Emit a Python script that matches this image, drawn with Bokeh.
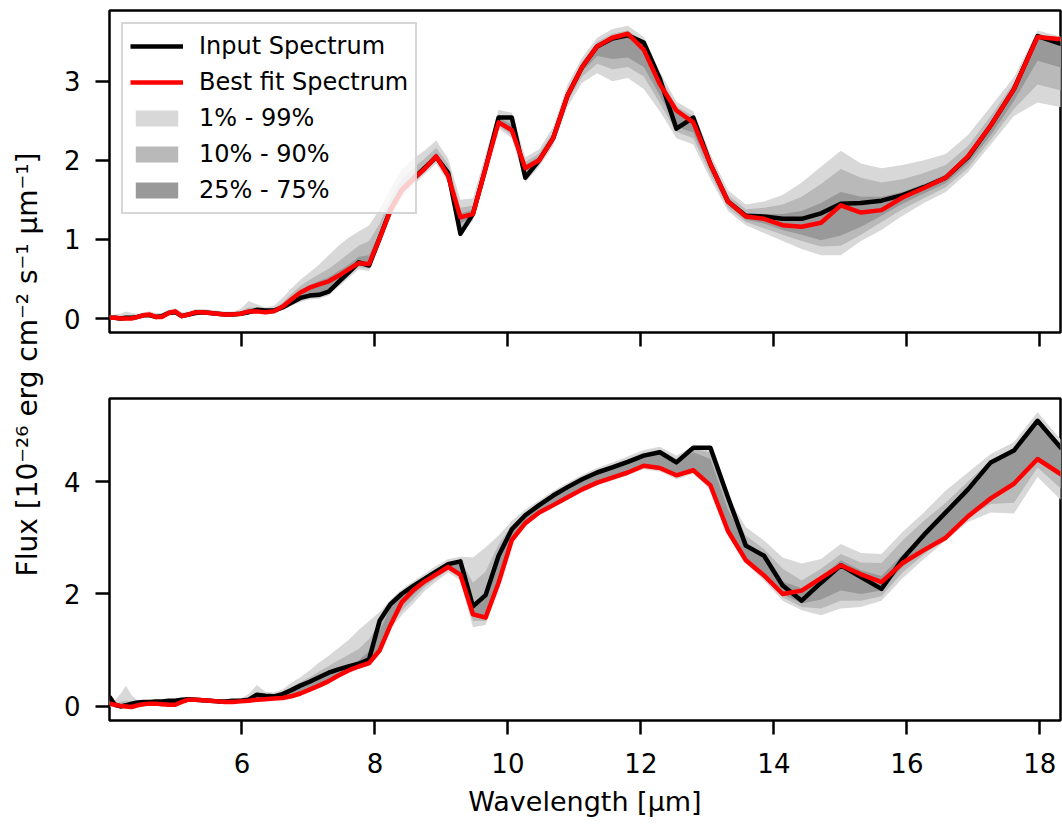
from math import pi
from bokeh.plotting import figure
from bokeh.models import Range1d, FixedTicker, Legend, LegendItem, Label
from bokeh.layouts import row, column
from bokeh.embed import file_html
from bokeh.resources import INLINE

# ---------------- data ----------------
wavelength = [4.009, 4.090, 4.173, 4.257, 4.343, 4.431, 4.520, 4.612, 4.705, 4.800,
              4.897, 4.996, 5.096, 5.199, 5.304, 5.412, 5.521, 5.632, 5.746, 5.862,
              5.981, 6.102, 6.225, 6.351, 6.479, 6.610, 6.743, 6.879, 7.018, 7.160,
              7.305, 7.452, 7.603, 7.756, 7.913, 8.073, 8.236, 8.402, 8.572, 8.745,
              8.922, 9.102, 9.286, 9.474, 9.665, 9.860, 10.059, 10.262, 10.470, 10.681,
              10.897, 11.117, 11.342, 11.571, 11.804, 12.043, 12.286, 12.534, 12.788, 13.046,
              13.309, 13.578, 13.852, 14.132, 14.418, 14.709, 15.006, 15.309, 15.618, 15.934,
              16.256, 16.584, 16.919, 17.261, 17.610, 17.965, 18.328]

top_input = [0.01, 0.01, 0.00, 0.01, 0.01, 0.02, 0.04, 0.04, 0.02, 0.03,
             0.07, 0.08, 0.03, 0.05, 0.07, 0.08, 0.07, 0.06, 0.05, 0.05,
             0.06, 0.08, 0.11, 0.10, 0.10, 0.14, 0.20, 0.26, 0.29, 0.30,
             0.34, 0.46, 0.58, 0.71, 0.67, 1.02, 1.38, 1.62, 1.76, 1.90,
             2.04, 1.84, 1.07, 1.32, 1.90, 2.54, 2.54, 1.78, 2.00, 2.28,
             2.82, 3.18, 3.44, 3.54, 3.58, 3.49, 3.03, 2.40, 2.54, 1.95,
             1.48, 1.30, 1.29, 1.26, 1.26, 1.33, 1.45, 1.46, 1.49, 1.56,
             1.66, 1.78, 2.04, 2.44, 2.90, 3.57, 3.47]
top_fit = [0.01, 0.01, 0.00, 0.00, 0.00, 0.02, 0.04, 0.05, 0.02, 0.02,
           0.07, 0.09, 0.03, 0.05, 0.08, 0.08, 0.07, 0.06, 0.05, 0.05,
           0.06, 0.09, 0.09, 0.08, 0.09, 0.15, 0.24, 0.33, 0.39, 0.43,
           0.47, 0.54, 0.62, 0.70, 0.69, 1.02, 1.37, 1.62, 1.76, 1.89,
           2.05, 1.80, 1.28, 1.32, 1.90, 2.48, 2.38, 1.90, 2.00, 2.28,
           2.82, 3.18, 3.44, 3.55, 3.60, 3.40, 2.96, 2.63, 2.48, 1.95,
           1.48, 1.29, 1.26, 1.18, 1.16, 1.21, 1.43, 1.34, 1.37, 1.53,
           1.65, 1.78, 2.05, 2.44, 2.90, 3.56, 3.53]
top_lo1 = [-0.02, -0.02, -0.03, -0.03, -0.02, 0.00, 0.02, 0.02, -0.01, 0.00,
           0.04, 0.06, 0.01, 0.03, 0.05, 0.05, 0.04, 0.03, 0.03, 0.03,
           0.03, 0.05, 0.06, 0.05, 0.06, 0.10, 0.16, 0.21, 0.24, 0.25,
           0.29, 0.40, 0.51, 0.62, 0.60, 0.92, 1.28, 1.52, 1.68, 1.82,
           1.96, 1.72, 1.05, 1.24, 1.82, 2.40, 2.28, 1.72, 1.92, 2.18,
           2.68, 2.98, 3.10, 3.00, 3.04, 2.90, 2.62, 2.28, 2.20, 1.76,
           1.36, 1.18, 1.08, 0.98, 0.88, 0.80, 0.80, 0.98, 1.12, 1.30,
           1.46, 1.60, 1.85, 2.20, 2.56, 2.73, 2.67]
top_lo10 = [-0.01, -0.01, -0.02, -0.02, -0.01, 0.01, 0.03, 0.03, 0.00, 0.01,
            0.05, 0.07, 0.02, 0.04, 0.06, 0.06, 0.05, 0.04, 0.04, 0.04,
            0.04, 0.06, 0.07, 0.06, 0.07, 0.11, 0.18, 0.23, 0.26, 0.27,
            0.32, 0.43, 0.54, 0.65, 0.63, 0.96, 1.32, 1.56, 1.71, 1.85,
            1.99, 1.76, 1.12, 1.27, 1.85, 2.43, 2.32, 1.78, 1.95, 2.22,
            2.74, 3.06, 3.22, 3.15, 3.18, 3.06, 2.72, 2.36, 2.28, 1.82,
            1.40, 1.22, 1.14, 1.06, 0.98, 0.91, 0.92, 1.06, 1.22, 1.38,
            1.52, 1.66, 1.90, 2.26, 2.65, 2.96, 2.88]
top_lo25 = [0.00, 0.00, -0.01, -0.01, 0.00, 0.01, 0.03, 0.04, 0.01, 0.02,
            0.06, 0.08, 0.02, 0.04, 0.07, 0.07, 0.06, 0.05, 0.04, 0.04,
            0.05, 0.07, 0.08, 0.07, 0.08, 0.12, 0.19, 0.25, 0.28, 0.29,
            0.34, 0.46, 0.57, 0.68, 0.66, 1.00, 1.35, 1.59, 1.74, 1.87,
            2.02, 1.78, 1.20, 1.29, 1.87, 2.46, 2.35, 1.84, 1.98, 2.25,
            2.79, 3.12, 3.32, 3.28, 3.30, 3.18, 2.82, 2.42, 2.35, 1.88,
            1.44, 1.25, 1.20, 1.12, 1.06, 0.99, 1.05, 1.16, 1.30, 1.45,
            1.58, 1.71, 1.96, 2.32, 2.75, 3.26, 3.17]
top_hi25 = [0.02, 0.02, 0.01, 0.02, 0.02, 0.03, 0.05, 0.06, 0.03, 0.04,
            0.08, 0.10, 0.05, 0.06, 0.09, 0.09, 0.08, 0.07, 0.06, 0.06,
            0.07, 0.11, 0.12, 0.10, 0.11, 0.17, 0.27, 0.36, 0.42, 0.47,
            0.52, 0.60, 0.68, 0.78, 0.80, 1.10, 1.44, 1.68, 1.82, 1.94,
            2.10, 1.88, 1.33, 1.37, 1.95, 2.54, 2.45, 1.94, 2.05, 2.32,
            2.86, 3.21, 3.46, 3.56, 3.60, 3.44, 3.00, 2.62, 2.50, 1.97,
            1.52, 1.33, 1.32, 1.32, 1.36, 1.46, 1.60, 1.54, 1.54, 1.60,
            1.70, 1.82, 2.09, 2.46, 2.92, 3.57, 3.50]
top_hi10 = [0.03, 0.03, 0.03, 0.04, 0.04, 0.04, 0.06, 0.07, 0.05, 0.05,
            0.09, 0.11, 0.06, 0.07, 0.10, 0.10, 0.09, 0.08, 0.07, 0.07,
            0.09, 0.14, 0.14, 0.12, 0.13, 0.20, 0.31, 0.41, 0.49, 0.56,
            0.63, 0.72, 0.82, 0.92, 0.98, 1.20, 1.52, 1.76, 1.90, 2.02,
            2.16, 1.95, 1.40, 1.43, 2.00, 2.58, 2.52, 1.98, 2.09, 2.36,
            2.90, 3.25, 3.50, 3.60, 3.64, 3.50, 3.06, 2.68, 2.56, 2.02,
            1.56, 1.38, 1.40, 1.44, 1.54, 1.70, 1.89, 1.78, 1.72, 1.76,
            1.84, 1.94, 2.18, 2.56, 2.98, 3.60, 3.53]
top_hi1 = [0.04, 0.05, 0.06, 0.09, 0.07, 0.06, 0.08, 0.09, 0.07, 0.07,
           0.11, 0.13, 0.08, 0.09, 0.12, 0.12, 0.11, 0.10, 0.09, 0.09,
           0.12, 0.22, 0.18, 0.14, 0.16, 0.26, 0.38, 0.49, 0.58, 0.68,
           0.80, 0.92, 1.02, 1.10, 1.18, 1.38, 1.65, 1.88, 2.02, 2.12,
           2.25, 2.02, 1.50, 1.52, 2.08, 2.64, 2.60, 2.04, 2.14, 2.42,
           2.96, 3.30, 3.55, 3.66, 3.70, 3.56, 3.12, 2.74, 2.62, 2.08,
           1.62, 1.44, 1.48, 1.56, 1.72, 1.92, 2.12, 1.96, 1.90, 1.94,
           2.00, 2.08, 2.32, 2.68, 3.05, 3.64, 3.56]

bot_input = [0.17, 0.03, 0.00, 0.02, 0.05, 0.07, 0.08, 0.08, 0.09, 0.09,
             0.10, 0.10, 0.12, 0.13, 0.12, 0.11, 0.10, 0.09, 0.09, 0.10,
             0.10, 0.12, 0.21, 0.19, 0.18, 0.22, 0.29, 0.37, 0.44, 0.52,
             0.60, 0.66, 0.71, 0.76, 0.84, 1.53, 1.82, 2.00, 2.14, 2.27,
             2.40, 2.53, 2.58, 1.78, 1.98, 2.68, 3.15, 3.40, 3.58, 3.75,
             3.90, 4.04, 4.16, 4.25, 4.35, 4.46, 4.52, 4.34, 4.60, 4.60,
             3.72, 2.86, 2.68, 2.15, 1.88, 2.20, 2.51, 2.30, 2.09, 2.62,
             3.05, 3.45, 3.86, 4.34, 4.55, 5.08, 4.58]
bot_fit = [0.05, 0.03, 0.01, 0.00, -0.01, 0.02, 0.04, 0.05, 0.05, 0.04,
           0.03, 0.03, 0.08, 0.12, 0.12, 0.11, 0.10, 0.09, 0.08, 0.08,
           0.09, 0.10, 0.12, 0.13, 0.14, 0.15, 0.18, 0.23, 0.30, 0.37,
           0.45, 0.55, 0.64, 0.71, 0.77, 1.00, 1.45, 1.85, 2.06, 2.22,
           2.35, 2.48, 2.34, 1.64, 1.58, 2.20, 2.96, 3.26, 3.45, 3.58,
           3.72, 3.86, 3.98, 4.07, 4.16, 4.28, 4.24, 4.11, 4.20, 3.93,
           3.12, 2.60, 2.33, 2.00, 2.06, 2.28, 2.51, 2.35, 2.21, 2.55,
           2.78, 3.00, 3.38, 3.70, 3.96, 4.40, 4.12]
bot_lo1 = [0.00, -0.02, -0.03, -0.03, -0.03, -0.01, 0.01, 0.02, 0.02, 0.01,
           0.00, 0.00, 0.05, 0.09, 0.09, 0.08, 0.07, 0.06, 0.05, 0.05,
           0.06, 0.07, 0.09, 0.10, 0.11, 0.12, 0.15, 0.19, 0.26, 0.33,
           0.41, 0.51, 0.60, 0.67, 0.72, 0.95, 1.38, 1.62, 1.82, 2.05,
           2.22, 2.38, 2.24, 1.41, 1.45, 2.10, 2.90, 3.20, 3.40, 3.53,
           3.67, 3.81, 3.93, 4.02, 4.11, 4.22, 4.18, 4.04, 4.14, 3.86,
           3.06, 2.54, 2.24, 1.88, 1.71, 1.62, 1.74, 1.77, 1.88, 2.28,
           2.62, 2.95, 3.28, 3.45, 3.43, 4.08, 3.66]
bot_lo10 = [0.02, 0.00, -0.01, -0.02, -0.02, 0.00, 0.02, 0.03, 0.03, 0.02,
            0.01, 0.01, 0.06, 0.10, 0.10, 0.09, 0.08, 0.07, 0.06, 0.06,
            0.07, 0.08, 0.10, 0.11, 0.12, 0.13, 0.16, 0.21, 0.28, 0.35,
            0.43, 0.53, 0.62, 0.69, 0.74, 0.98, 1.44, 1.70, 1.90, 2.12,
            2.28, 2.42, 2.30, 1.52, 1.52, 2.16, 2.94, 3.24, 3.43, 3.56,
            3.70, 3.84, 3.96, 4.05, 4.14, 4.25, 4.22, 4.08, 4.18, 3.90,
            3.10, 2.58, 2.29, 1.94, 1.77, 1.74, 1.88, 1.88, 1.96, 2.38,
            2.70, 3.00, 3.36, 3.60, 3.62, 4.25, 3.86]
bot_lo25 = [0.03, 0.01, 0.00, -0.01, -0.01, 0.01, 0.03, 0.04, 0.04, 0.03,
            0.02, 0.02, 0.07, 0.11, 0.11, 0.10, 0.09, 0.08, 0.07, 0.07,
            0.08, 0.09, 0.11, 0.12, 0.13, 0.14, 0.17, 0.22, 0.29, 0.36,
            0.44, 0.54, 0.63, 0.70, 0.76, 1.02, 1.50, 1.78, 1.98, 2.17,
            2.32, 2.46, 2.36, 1.60, 1.56, 2.22, 2.98, 3.27, 3.46, 3.59,
            3.73, 3.87, 3.99, 4.08, 4.17, 4.29, 4.26, 4.12, 4.22, 3.96,
            3.16, 2.64, 2.36, 2.00, 1.83, 1.90, 2.06, 2.00, 2.06, 2.48,
            2.76, 3.04, 3.42, 3.72, 3.98, 4.42, 4.12]
bot_hi25 = [0.10, 0.04, 0.03, 0.04, 0.04, 0.06, 0.07, 0.08, 0.08, 0.08,
            0.09, 0.09, 0.11, 0.13, 0.13, 0.12, 0.11, 0.10, 0.09, 0.10,
            0.10, 0.12, 0.19, 0.18, 0.18, 0.21, 0.28, 0.36, 0.43, 0.51,
            0.59, 0.66, 0.72, 0.82, 0.98, 1.35, 1.76, 1.98, 2.12, 2.26,
            2.40, 2.53, 2.56, 1.82, 2.00, 2.68, 3.15, 3.40, 3.58, 3.75,
            3.90, 4.04, 4.16, 4.25, 4.35, 4.46, 4.52, 4.34, 4.52, 4.40,
            3.50, 2.90, 2.62, 2.22, 2.10, 2.30, 2.60, 2.42, 2.32, 2.70,
            3.08, 3.46, 3.86, 4.30, 4.52, 5.00, 4.55]
bot_hi10 = [0.14, 0.06, 0.08, 0.10, 0.08, 0.08, 0.09, 0.09, 0.10, 0.10,
            0.11, 0.11, 0.13, 0.15, 0.14, 0.13, 0.12, 0.11, 0.11, 0.11,
            0.12, 0.15, 0.24, 0.21, 0.21, 0.25, 0.34, 0.43, 0.52, 0.62,
            0.72, 0.82, 0.92, 1.02, 1.20, 1.50, 1.82, 2.02, 2.16, 2.30,
            2.44, 2.57, 2.60, 2.20, 2.40, 2.88, 3.22, 3.45, 3.62, 3.79,
            3.94, 4.08, 4.20, 4.30, 4.40, 4.51, 4.57, 4.40, 4.58, 4.52,
            3.60, 3.04, 2.80, 2.45, 2.24, 2.45, 2.71, 2.56, 2.55, 2.95,
            3.30, 3.62, 4.00, 4.38, 4.60, 5.12, 4.65]
bot_hi1 = [0.18, 0.10, 0.22, 0.37, 0.20, 0.10, 0.11, 0.11, 0.12, 0.12,
           0.13, 0.13, 0.15, 0.17, 0.16, 0.15, 0.14, 0.13, 0.13, 0.13,
           0.14, 0.22, 0.38, 0.26, 0.25, 0.30, 0.42, 0.52, 0.64, 0.78,
           0.90, 1.04, 1.18, 1.36, 1.52, 1.68, 1.90, 2.08, 2.22, 2.36,
           2.50, 2.62, 2.66, 2.65, 2.83, 3.04, 3.30, 3.50, 3.66, 3.83,
           3.98, 4.12, 4.24, 4.34, 4.45, 4.56, 4.62, 4.46, 4.63, 4.60,
           3.72, 3.19, 2.95, 2.65, 2.54, 2.62, 2.89, 2.73, 2.71, 3.10,
           3.45, 3.84, 4.16, 4.49, 4.70, 5.23, 4.73]

x_ticks = [6, 8, 10, 12, 14, 16, 18]
top_y_ticks = [0, 1, 2, 3]
bot_y_ticks = [0, 2, 4]

band_labels = ["1% - 99%", "10% - 90%", "25% - 75%"]
line_labels = ["Input Spectrum", "Best fit Spectrum"]
x_label = "Wavelength [\u03bcm]"
y_label = "Flux [10\u207b\u00b2\u2076 erg cm\u207b\u00b2 s\u207b\u00b9 \u03bcm\u207b\u00b9]"

# ---------------- style ----------------
FONT = "DejaVu Sans"
TICK_FS = "26px"
LABEL_FS = "27px"
BAND_COLORS = ["#d8d8d8", "#b9b9b9", "#999999"]


def style(p, yticks):
    p.outline_line_color = "black"
    p.outline_line_width = 2.5
    p.outline_line_alpha = 1.0
    p.xgrid.visible = False
    p.ygrid.visible = False
    p.background_fill_color = "white"
    p.border_fill_color = "white"
    for ax in (p.xaxis[0], p.yaxis[0]):
        ax.axis_line_color = None
        ax.major_tick_line_color = "black"
        ax.major_tick_line_width = 2.5
        ax.major_tick_out = 14
        ax.major_tick_in = 0
        ax.minor_tick_line_color = None
        ax.major_label_text_font = FONT
        ax.major_label_text_font_size = TICK_FS
        ax.major_label_text_color = "black"
    p.xaxis[0].major_label_standoff = 18
    p.yaxis[0].major_label_standoff = 15
    p.xaxis[0].ticker = FixedTicker(ticks=x_ticks)
    p.yaxis[0].ticker = FixedTicker(ticks=yticks)


def panel(height, yr, border_top, border_bottom, lo, hi, inp, fit, yticks):
    p = figure(width=1012, height=height, output_backend="svg", toolbar_location=None,
               x_range=Range1d(4.009, 18.31), y_range=Range1d(*yr),
               min_border_left=59, min_border_right=2,
               min_border_top=border_top, min_border_bottom=border_bottom)
    style(p, yticks)
    bands = []
    for (l, h), c in zip(zip(lo, hi), BAND_COLORS):
        bands.append(p.varea(x=wavelength, y1=l, y2=h, fill_color=c, fill_alpha=1.0))
    r_in = p.line(wavelength, inp, line_color="black", line_width=4.5, line_join="round")
    r_fit = p.line(wavelength, fit, line_color="#ff0000", line_width=4.5, line_join="round")
    return p, bands, r_in, r_fit


top, tb, t_in, t_fit = panel(388, (-0.177, 3.894), 10, 56,
                             [top_lo1, top_lo10, top_lo25], [top_hi1, top_hi10, top_hi25],
                             top_input, top_fit, top_y_ticks)
# the upper panel shares the x axis: ticks only, no tick labels
top.xaxis[0].major_label_text_color = None

bot, bb, b_in, b_fit = panel(438, (-0.25, 5.476), 10, 106,
                             [bot_lo1, bot_lo10, bot_lo25], [bot_hi1, bot_hi10, bot_hi25],
                             bot_input, bot_fit, bot_y_ticks)
bot.xaxis[0].axis_label = x_label
bot.xaxis[0].axis_label_text_font = FONT
bot.xaxis[0].axis_label_text_font_size = LABEL_FS
bot.xaxis[0].axis_label_text_font_style = "normal"
bot.xaxis[0].axis_label_text_color = "black"
bot.xaxis[0].axis_label_standoff = 10

legend = Legend(items=[LegendItem(label=line_labels[0], renderers=[t_in]),
                       LegendItem(label=line_labels[1], renderers=[t_fit]),
                       LegendItem(label=band_labels[0], renderers=[tb[0]]),
                       LegendItem(label=band_labels[1], renderers=[tb[1]]),
                       LegendItem(label=band_labels[2], renderers=[tb[2]])],
                location="top_left")
legend.margin = 12
legend.padding = 7
legend.spacing = 6
legend.glyph_width = 53
legend.glyph_height = 20
legend.label_height = 30
legend.label_standoff = 16
legend.label_text_font = FONT
legend.label_text_font_size = "24px"
legend.label_text_color = "black"
legend.background_fill_color = "white"
legend.background_fill_alpha = 0.8
legend.border_line_color = "#cccccc"
legend.border_line_width = 2
legend.border_line_alpha = 0.8
top.add_layout(legend)

# shared y-axis label, spanning both panels
lab = figure(width=50, height=826, output_backend="svg", toolbar_location=None,
             x_range=Range1d(0, 50), y_range=Range1d(0, 826),
             x_axis_type=None, y_axis_type=None, min_border=0)
lab.outline_line_color = None
lab.background_fill_color = "white"
lab.border_fill_color = "white"
lab.add_layout(Label(x=27, y=462, text=y_label, angle=pi / 2, text_align="center",
                     text_baseline="middle", text_font=FONT, text_font_size="28px",
                     text_color="black"))

layout = row(lab, column(top, bot))
open("out.html", "w").write(file_html(layout, INLINE))
